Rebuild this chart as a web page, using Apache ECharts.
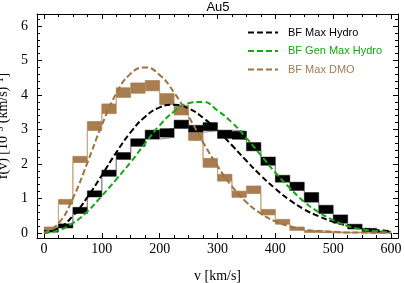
<!DOCTYPE html>
<html><head><meta charset="utf-8">
<script src="https://cdn.jsdelivr.net/npm/echarts@6/dist/echarts.min.js"></script>
<style>html,body{margin:0;padding:0;background:#fff}#c{width:405px;height:283px}</style>
</head><body><div id="c"></div>
<script>
// ---- data ----
const binEdges = [0,25,50,75,100,125,150,175,200,225,250,275,300,325,350,375,400,425,450,475,500,525,550,575];
const binWidth = 25;
const hydroMid = [0.05,0.20,0.65,1.13,1.73,2.23,2.62,2.85,2.90,3.15,3.02,3.08,2.86,2.83,2.50,2.08,1.57,1.35,1.03,0.68,0.40,0.18,0.08,0.03];
const hydroErr = [0.03,0.06,0.09,0.09,0.09,0.10,0.11,0.13,0.13,0.12,0.10,0.12,0.12,0.12,0.12,0.12,0.10,0.12,0.14,0.12,0.12,0.07,0.05,0.02];
const dmoMid = [0.12,0.90,2.13,3.10,3.60,4.07,4.20,4.27,3.88,3.56,2.88,2.03,1.60,1.12,1.25,0.60,0.32,0.12,0.04,0.02,0.01,0.01,0.00,0.00];
const dmoErr = [0.05,0.07,0.09,0.13,0.14,0.14,0.15,0.15,0.16,0.14,0.20,0.13,0.10,0.09,0.11,0.08,0.07,0.05,0.03,0.02,0.01,0.01,0.01,0.01];
const curveV = [0,25,50,75,100,125,150,175,200,225,250,275,300,325,350,375,400,425,450,475,500,525,550,575,600];
const maxHydro = [0,0.13,0.49,1.03,1.67,2.33,2.92,3.37,3.64,3.72,3.61,3.34,2.97,2.54,2.09,1.66,1.28,0.95,0.68,0.48,0.32,0.21,0.13,0.08,0.05];
const genMaxHydro = [0,0.07,0.28,0.62,1.07,1.55,2.05,2.60,3.12,3.52,3.76,3.80,3.55,3.20,2.75,2.25,1.75,1.30,0.90,0.60,0.37,0.20,0.10,0.05,0.02];
const maxDmo = [0,0.27,1.00,2.03,3.12,4.04,4.62,4.80,4.58,4.07,3.38,2.63,1.94,1.35,0.89,0.56,0.33,0.19,0.10,0.05,0.03,0.01,0.01,0,0];
const xMajorTicks = [0,100,200,300,400,500,600];
const xMinorTicks = [0,25,50,75,100,125,150,175,200,225,250,275,300,325,350,375,400,425,450,475,500,525,550,575,600];
const yMajorTicks = [0,1,2,3,4,5,6];
const yMinorTicks = [0,0.2,0.4,0.6,0.8,1,1.2,1.4,1.6,1.8,2,2.2,2.4,2.6,2.8,3,3.2,3.4,3.6,3.8,4,4.2,4.4,4.6,4.8,5,5.2,5.4,5.6,5.8,6,6.2];

// ---- build ----
const XMIN = -12, XMAX = 612, YMIN = -0.15, YMAX = 6.35;
const gridRect = {left:37, top:14, width:361, height:224, outerBoundsMode:'none', containLabel:false};
function bandData(mid, err){ return binEdges.map((e,i)=>[e, e+binWidth, mid[i]-err[i], mid[i]+err[i]]); }
function stepData(mid, err, sign){
  const d = binEdges.map((e,i)=>[e, mid[i]+sign*err[i]]);
  d.push([binEdges[binEdges.length-1]+binWidth, mid[mid.length-1]+sign*err[err.length-1]]);
  return d;
}
function curve(arr){ return curveV.map((v,i)=>[v, arr[i]]); }
const serif = 'Liberation Serif';
function xAx(grid, pos, ticks, len, showLine, labels, extra){
  return Object.assign({type:'value', gridIndex:grid, position:pos, min:XMIN, max:XMAX,
    axisLine:{show:showLine, onZero:false, lineStyle:{color:'#000', width:1}},
    axisTick:{show:true, inside:true, length:len, customValues:ticks, lineStyle:{color:'#000', width:1}},
    axisLabel:{show:labels, customValues:xMajorTicks, fontFamily:serif, fontSize:14, color:'#000', margin:4},
    splitLine:{show:false}}, extra||{});
}
function yAx(grid, pos, ticks, len, showLine, labels, extra){
  return Object.assign({type:'value', gridIndex:grid, position:pos, min:YMIN, max:YMAX,
    axisLine:{show:showLine, onZero:false, lineStyle:{color:'#000', width:1}},
    axisTick:{show:true, inside:true, length:len, customValues:ticks, lineStyle:{color:'#000', width:1}},
    axisLabel:{show:labels, customValues:yMajorTicks, fontFamily:serif, fontSize:14, color:'#000', margin:9},
    splitLine:{show:false}}, extra||{});
}
function bandSeries(name, mid, err, fill, z){
  return {type:'custom', name:name, xAxisIndex:0, yAxisIndex:0, z:z, silent:true,
    data: bandData(mid, err),
    renderItem: function(params, api){
      const p0 = api.coord([api.value(0), api.value(3)]);
      const p1 = api.coord([api.value(1), api.value(2)]);
      return {type:'rect', shape:{x:p0[0], y:p0[1], width:p1[0]-p0[0], height:p1[1]-p0[1]}, style:{fill:fill}};
    }};
}
function stepSeries(mid, err, sign, color, z){
  return {type:'line', step:'end', xAxisIndex:0, yAxisIndex:0, z:z, symbol:'none', silent:true,
    data: stepData(mid, err, sign), lineStyle:{color:color, width:1}, legendHoverLink:false};
}
function curveSeries(name, arr, color){
  return {type:'line', name:name, xAxisIndex:0, yAxisIndex:0, z:10, symbol:'none', smooth:true, silent:true,
    data: curve(arr), lineStyle:{color:color, width:2, type:[6,3]}, itemStyle:{color:color}};
}
const BROWN = '#a0733f', GREEN = '#11aa11';
const option = {
  animation:false,
  title:{text:'Au5', left:218, top:1, padding:0, textAlign:'center', textStyle:{fontFamily:'Liberation Sans', fontSize:13, fontWeight:'normal', color:'#000'}},
  legend:{orient:'vertical', left:247, top:27, padding:0, itemWidth:30, itemHeight:10, itemGap:7.5,
    itemStyle:{opacity:0},
    textStyle:{fontFamily:'Liberation Sans', fontSize:11, padding:[0,0,0,5]},
    data:[{name:'BF Max Hydro', textStyle:{color:'#000'}},
          {name:'BF Gen Max Hydro', textStyle:{color:GREEN}},
          {name:'BF Max DMO', textStyle:{color:'#a57c4f'}}]},
  grid:[Object.assign({}, gridRect), Object.assign({}, gridRect)],
  xAxis:[
    xAx(0,'bottom',xMajorTicks,5,true,true,{name:'v [km/s]', nameLocation:'middle', nameGap:31, nameTextStyle:{fontFamily:serif, fontSize:14, color:'#000'}}),
    xAx(0,'top',xMajorTicks,5,true,false),
    xAx(1,'bottom',xMinorTicks,3,false,false),
    xAx(1,'top',xMinorTicks,3,false,false)
  ],
  yAxis:[
    yAx(0,'left',yMajorTicks,5,true,true,{name:'f(v) [10\u207B\u00B3 (km/s)\u207B\u00B9]', nameLocation:'middle', nameRotate:90, nameGap:27, nameTextStyle:{fontFamily:serif, fontSize:14, color:'#000'}}),
    yAx(0,'right',yMajorTicks,5,true,false),
    yAx(1,'left',yMinorTicks,3,false,false),
    yAx(1,'right',yMinorTicks,3,false,false)
  ],
  series:[
    stepSeries(dmoMid, dmoErr, -1, '#c9a882', 2),
    stepSeries(dmoMid, dmoErr, 1, '#c9a882', 2),
    bandSeries('dmoBand', dmoMid, dmoErr, '#a87d52', 3),
    stepSeries(hydroMid, hydroErr, -1, '#8a8a8a', 4),
    stepSeries(hydroMid, hydroErr, 1, '#8a8a8a', 4),
    bandSeries('hydroBand', hydroMid, hydroErr, '#000', 5),
    curveSeries('BF Max Hydro', maxHydro, '#000'),
    curveSeries('BF Gen Max Hydro', genMaxHydro, GREEN),
    curveSeries('BF Max DMO', maxDmo, BROWN)
  ]
};
const chart = echarts.init(document.getElementById('c'), null, {renderer:'canvas'});
chart.setOption(option);
</script></body></html>
